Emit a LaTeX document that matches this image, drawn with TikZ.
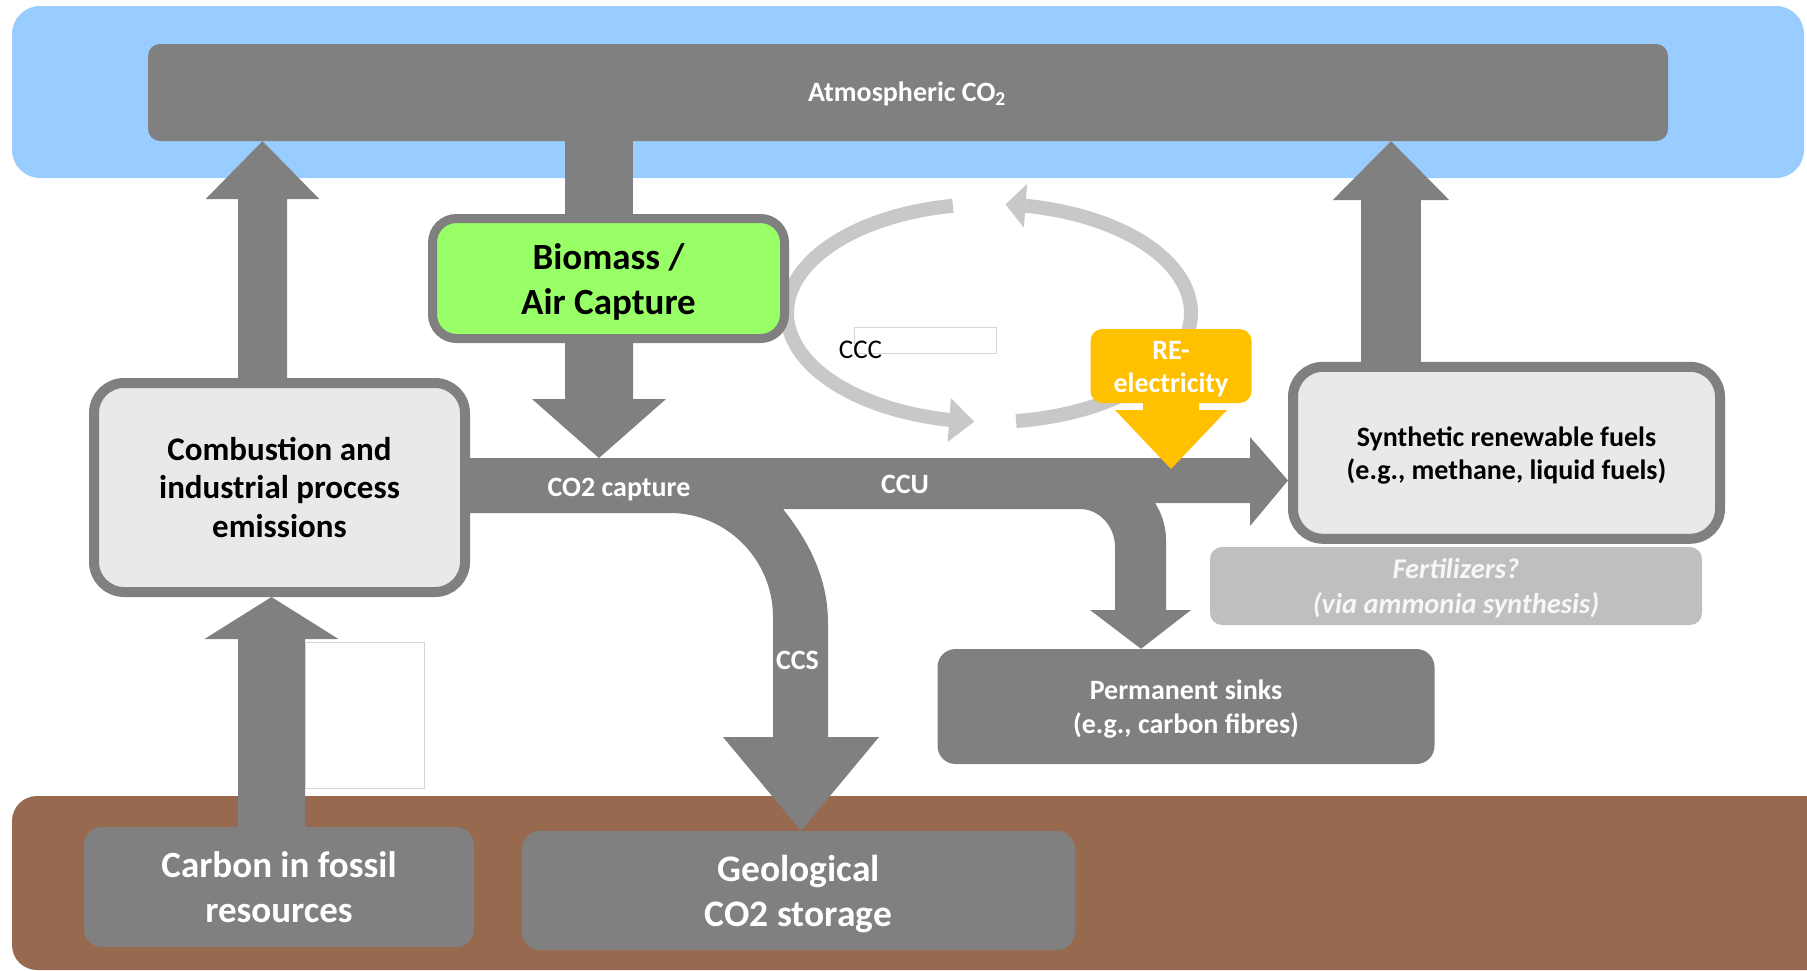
\documentclass[tikz,border=0pt]{standalone}
\usepackage{fontspec}
\setmainfont{Carlito}
\usetikzlibrary{arrows.meta,bending,calc}
\definecolor{dgray}{HTML}{808080}
\definecolor{lgray}{HTML}{E9E9E9}
\definecolor{sky}{HTML}{99CCFF}
\definecolor{soil}{HTML}{976A50}
\definecolor{bgreen}{HTML}{99FF66}
\definecolor{reY}{HTML}{FFC000}
\definecolor{fertc}{HTML}{BFBFBF}
\definecolor{fertt}{HTML}{F7F7F7}
\definecolor{ringc}{HTML}{C8C8C8}
\definecolor{thinline}{HTML}{D6D6D6}
\pgfdeclarelayer{back}
\pgfdeclarelayer{mid}
\pgfsetlayers{back,mid,main}
\newcommand\blkup[6]{\fill[#1] let \p1=#2, \p2=#3 in
  (\x2-#4pt,\y1) -- (\x2-#4pt,\y2-#6pt) -- (\x2-#5pt,\y2-#6pt) -- (\x2,\y2)
  -- (\x2+#5pt,\y2-#6pt) -- (\x2+#4pt,\y2-#6pt) -- (\x2+#4pt,\y1) -- cycle;}
\newcommand\blkdown[6]{\fill[#1] let \p1=#2, \p2=#3 in
  (\x2-#4pt,\y1) -- (\x2-#4pt,\y2+#6pt) -- (\x2-#5pt,\y2+#6pt) -- (\x2,\y2)
  -- (\x2+#5pt,\y2+#6pt) -- (\x2+#4pt,\y2+#6pt) -- (\x2+#4pt,\y1) -- cycle;}
\tikzset{
  blk/.style={fill=dgray},
  yblk/.style={fill=reY},
  lbox/.style={draw=dgray, line width=10pt, fill=lgray, rounded corners=30pt, inner sep=0pt},
  dbox/.style={fill=dgray, rounded corners=18pt, inner sep=0pt},
  boxtext/.style={inner sep=0pt, align=center, text=black,
    font=\bfseries\fontsize{28pt}{33pt}\selectfont},
  wboxtext/.style={boxtext, text=white},
  flowlabel/.style={text=white, anchor=base, inner sep=0pt,
    font=\bfseries\fontsize{28pt}{33pt}\selectfont},
  ringarc/.style={draw=ringc, line width=14pt},
  emptybox/.style={draw=thinline, line width=1pt, inner sep=0pt},
}
\begin{document}
\begin{tikzpicture}[x=1pt,y=-1pt]
\useasboundingbox (0,0) rectangle (1807,970);
% ---------- boxes ----------
\node[dbox, rounded corners=12pt, minimum width=1520pt, minimum height=97pt] (atm) at (908,92.5) {};
\node[lbox, minimum width=371pt, minimum height=209pt] (comb) at (279.5,487.5) {};
\node[lbox, fill=bgreen, line width=9pt, rounded corners=24pt, minimum width=352pt, minimum height=120pt] (bio) at (608.5,278.5) {};
\node[lbox, minimum width=427pt, minimum height=172pt] (synth) at (1506.5,452.8) {};
\node[dbox, minimum width=390pt, minimum height=120pt] (fossil) at (279,887) {};
\node[dbox, minimum width=553pt, minimum height=119pt] (geo) at (798.5,890.5) {};
\node[dbox, minimum width=497pt, minimum height=115pt] (sinks) at (1186,706.5) {};
\node[dbox, fill=fertc, rounded corners=12pt, minimum width=492pt, minimum height=78pt] (fert) at (1456,586) {};
\node[dbox, fill=reY, rounded corners=12pt, minimum width=161pt, minimum height=74pt] (re) at (1171,366) {};
\node[emptybox, minimum width=119pt, minimum height=146pt] (blank1) at (364.5,715) {};
\node[emptybox, fill=white, minimum width=142pt, minimum height=26pt] (blank2) at (925,340) {};
% ---------- texts ----------
\node[flowlabel] (atmlabel) at (907,101) {Atmospheric CO\textsubscript{2}};
\node[boxtext, font=\bfseries\fontsize{33pt}{38.5pt}\selectfont] (combt) at (comb)
  {Combustion and\\industrial process\\emissions};
\node[boxtext, font=\bfseries\fontsize{37pt}{45pt}\selectfont] (biot) at ($(bio)+(0,3.5)$) {Biomass /\\Air Capture};
\node[boxtext] (syntht) at ($(synth)+(0,3)$) {Synthetic renewable fuels\\(e.g., methane, liquid fuels)};
\node[wboxtext, font=\bfseries\fontsize{37pt}{45pt}\selectfont] (fossilt) at (fossil) {Carbon in fossil\\resources};
\node[wboxtext, font=\bfseries\fontsize{37.5pt}{45pt}\selectfont] (geot) at ($(geo)+(0,3.5)$) {Geological\\CO2 storage};
\node[wboxtext, font=\bfseries\fontsize{28pt}{34pt}\selectfont] (sinkst) at ($(sinks)+(0,3)$) {Permanent sinks\\(e.g., carbon fibres)};
\node[wboxtext, text=fertt, font=\bfseries\itshape\fontsize{28.5pt}{35pt}\selectfont] (fertt) at ($(fert)+(0,2.5)$)
  {Fertilizers?\\(via ammonia synthesis)};
\node[wboxtext] (ret) at ($(re)+(0,3.5)$) {RE-\\electricity};
\node[flowlabel] (co2cap) at (619,496) {CO2 capture};
\node[flowlabel] (ccu) at (905,493) {CCU};
\node[flowlabel] (ccs) at (797.5,669) {CCS};
\node[flowlabel, text=black, font=\fontsize{27pt}{33pt}\selectfont] (ccc) at (860.5,358) {CCC};
% ---------- helper coordinates ----------
\coordinate (xA) at (262.5,0);
\coordinate (xB) at (271.5,0);
\coordinate (xC) at (599,0);
\coordinate (xE) at (1391,0);
\coordinate (bandtop) at (0,458);
\coordinate (retip) at (1171,469);
\coordinate (cc) at (989,313);
% ---------- background ----------
\begin{pgfonlayer}{back}
\fill[sky, rounded corners=28pt] (12,6) rectangle (1804,178);
\fill[soil, rounded corners=25pt] (12,796) rectangle (1850,970);
\end{pgfonlayer}
% ---------- flows ----------
\begin{pgfonlayer}{mid}
\blkup{blk}{(xA |- comb.north)}{(xA |- atm.south)}{24.5}{57}{58}
\blkup{blk}{(xB |- fossil.north)}{(xB |- comb.south)}{33.5}{67}{42}
\blkup{blk}{(xE |- synth.north)}{(xE |- atm.south)}{29.8}{58.4}{59}
\fill[blk] ($(xC |- atm.south)+(-34,0)$) rectangle ($(xC |- bio.north)+(34,0)$);
\blkdown{blk}{(xC |- bio.south)}{(xC |- bandtop)}{34}{67}{59}
% main band with CCS and CCU branches
\fill[blk] (comb.east |- bandtop) -- (1250,458) -- (1250,437) -- (synth.west |- 0,480.5)
  -- (1250,526) -- (1250,503) -- (1155,503)
  .. controls (1161,512) and (1166,525) .. (1166,540) -- (1166,610) -- (1191,610)
  -- (sinks.north -| 1141,0) -- (1090,610) -- (1115,610) -- (1115,547)
  .. controls (1115,526) and (1099,509) .. (1080,509) -- (783,509)
  .. controls (806,538) and (828,575) .. (828,623) -- (828,737) -- (879,737)
  -- (geo.north -| 801,0) -- (723,737) -- (773,737) -- (773,617)
  .. controls (773,560) and (727,513) .. (670,513) -- (comb.east |- 0,513) -- cycle;
\blkdown{yblk}{(re.south)}{(retip)}{28}{56}{59}
% CCC cycle
\draw[ringarc, -{Triangle[width=44pt,length=25pt,line width=0pt]}]
  ($(cc)+(-100.3:202 and 109)$) arc[start angle=-100.3, end angle=-265.8, x radius=202, y radius=109];
\draw[ringarc, -{Triangle[width=44pt,length=20pt,line width=0pt]}]
  ($(cc)+(-277.7:202 and 109)$) arc[start angle=-277.7, end angle=-445.3, x radius=202, y radius=109];
\end{pgfonlayer}
\end{tikzpicture}
\end{document}
